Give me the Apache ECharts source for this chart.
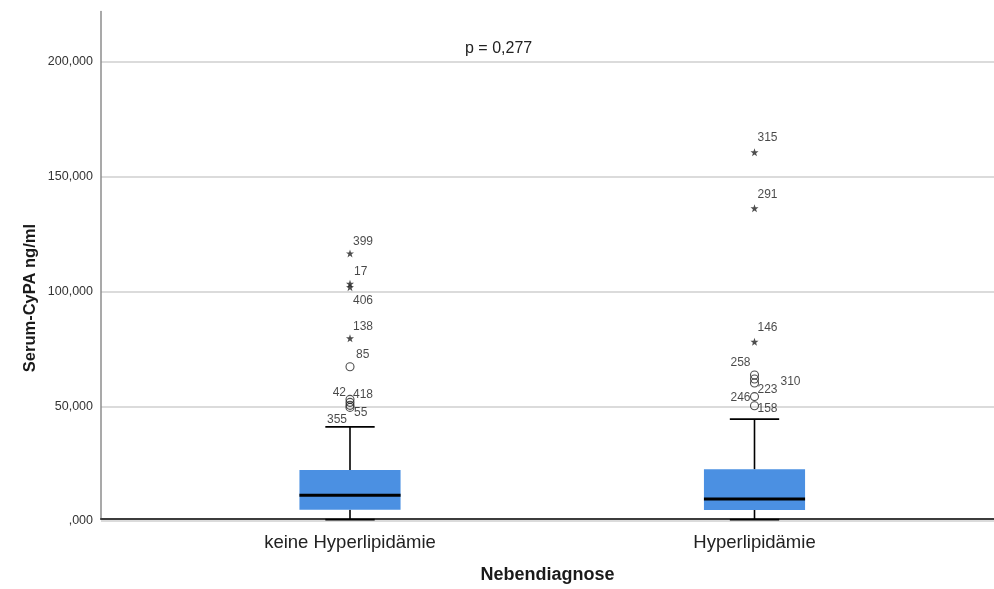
<!DOCTYPE html>
<html>
<head>
<meta charset="utf-8">
<script src="https://cdn.jsdelivr.net/npm/echarts@6/dist/echarts.min.js"></script>
<style>
  html, body { margin: 0; padding: 0; background: #ffffff; }
  #chart { width: 994px; height: 589px; }
</style>
</head>
<body>
<div id="chart"></div>
<script>
// Groups on the x axis
const categories = ['keine Hyperlipidämie', 'Hyperlipidämie'];

// Box summaries in ng/ml: [lower whisker, Q1, median, Q3, upper whisker]
const boxKeine = [0.6, 4.9, 11.2, 22.2, 41.0];
const boxHyper = [0.6, 4.8, 9.6, 22.5, 44.4];

// Outlying cases (case number, value in ng/ml, kind: 'o' = outlier, '*' = extreme)
const outIdsKeine   = [399, 17, 406, 138, 85, 42, 418, 355, 55];
const outValsKeine  = [116.6, 103.4, 101.9, 79.6, 67.2, 53.0, 51.7, 50.4, 49.5];
const outKindKeine  = ['*', '*', '*', '*', 'o', 'o', 'o', 'o', 'o'];

const outIdsHyper   = [315, 291, 146, 258, 310, 223, 246, 158];
const outValsHyper  = [160.7, 136.3, 78.1, 63.6, 61.9, 60.1, 54.2, 50.2];
const outKindHyper  = ['*', '*', '*', 'o', 'o', 'o', 'o', 'o'];

// Y axis ticks
const yTicks = [0, 50, 100, 150, 200];
const yMax = 222;

const pText = 'p = 0,277';

// Where each case number label sits next to its marker: [dx, dy, align]
const labelPlace = {
  399: [3, -12, 'left'], 17: [4, -12, 'left'], 406: [3, 14, 'left'],
  138: [3, -12, 'left'], 85: [6, -12, 'left'], 42: [-4, -7, 'right'],
  418: [3, -8, 'left'], 355: [-3, 14, 'right'], 55: [4, 5, 'left'],
  315: [3, -14, 'left'], 291: [3, -13, 'left'], 146: [3, -14, 'left'],
  258: [-4, -12, 'right'], 310: [26, 3, 'left'], 223: [3, 7, 'left'],
  246: [-4, 1, 'right'], 158: [3, 3, 'left']
};

const FONT = '"Liberation Sans", Arial, sans-serif';
const STAR = 'path://M0,-10L2.35,-3.24L9.51,-3.09L3.8,1.24L5.88,8.09L0,4L-5.88,8.09L-3.8,1.24L-9.51,-3.09L-2.35,-3.24Z';

function fmtTick(v) {
  let s = v.toFixed(3).replace('.', ',');
  s = s.replace(/\B(?=(\d{3})+(?!\d))/g, '.');
  if (s.startsWith('0,')) s = s.slice(1);
  return s;
}

function outlierItems(catIdx, ids, vals, kinds, kind) {
  const items = [];
  ids.forEach((id, i) => {
    if (kinds[i] !== kind) return;
    const p = labelPlace[id] || [3, -10, 'left'];
    items.push({
      name: String(id),
      value: [catIdx, vals[i]],
      label: { offset: [p[0], p[1]], align: p[2] }
    });
  });
  return items;
}

const circleData = outlierItems(0, outIdsKeine, outValsKeine, outKindKeine, 'o')
  .concat(outlierItems(1, outIdsHyper, outValsHyper, outKindHyper, 'o'));
const starData = outlierItems(0, outIdsKeine, outValsKeine, outKindKeine, '*')
  .concat(outlierItems(1, outIdsHyper, outValsHyper, outKindHyper, '*'));

const pointLabel = {
  show: true,
  position: 'inside',
  formatter: '{b}',
  fontSize: 12,
  fontFamily: FONT,
  color: '#1a1a1a',
  verticalAlign: 'middle'
};

const chart = echarts.init(document.getElementById('chart'));

chart.setOption({
  animation: false,
  backgroundColor: '#ffffff',
  grid: [
    // frame: axis lines
    { left: 101, right: 0, top: 11.5, bottom: 68 },
    // value scale with gridlines up to 200
    { left: 101, right: 0, top: 62, bottom: 68 },
    // boxes
    { left: 147.75, right: 37.25, top: 11.5, bottom: 68 }
  ],
  xAxis: [
    {
      gridIndex: 0, type: 'value', min: 0, max: 1, z: 3,
      axisLine: { show: true, lineStyle: { color: '#3c3c3c', width: 2 } },
      axisTick: { show: false }, axisLabel: { show: false }, splitLine: { show: false },
      name: 'Nebendiagnose', nameLocation: 'middle', nameGap: 47,
      nameTextStyle: { fontFamily: FONT, fontSize: 18, fontWeight: 'bold', color: '#1a1a1a' }
    },
    {
      gridIndex: 1, type: 'value', min: 0, max: 1, show: false
    },
    {
      gridIndex: 2, type: 'category', data: categories,
      axisLine: { show: false }, axisTick: { show: false },
      axisLabel: { margin: 12, fontFamily: FONT, fontSize: 18.5, color: '#222222' }
    }
  ],
  yAxis: [
    {
      gridIndex: 0, type: 'value', min: 0, max: yMax, z: 3,
      axisLine: { show: true, lineStyle: { color: '#8c8c8c', width: 1.5 } },
      axisTick: { show: false }, axisLabel: { show: false }, splitLine: { show: false }
    },
    {
      gridIndex: 1, type: 'value', min: yTicks[0], max: yTicks[yTicks.length - 1], interval: 50, z: 0,
      axisLine: { show: false }, axisTick: { show: false },
      axisLabel: { formatter: fmtTick, margin: 8, fontFamily: FONT, fontSize: 12.5, color: '#333333' },
      splitLine: { show: true, lineStyle: { color: '#cfcfcf', width: 1.5 } }
    },
    {
      gridIndex: 2, type: 'value', min: 0, max: yMax, show: false
    }
  ],
  graphic: [
    {
      type: 'text', left: 22, top: 224, rotation: Math.PI / 2, z: 10,
      style: {
        text: 'Serum-CyPA ng/ml', fontFamily: FONT, fontSize: 16.5, fontWeight: 'bold',
        fill: '#1a1a1a'
      }
    },
    {
      type: 'text', left: 465, top: 41, z: 10,
      style: { text: pText, fontFamily: FONT, fontSize: 16, fill: '#222222' }
    }
  ],
  series: [
    {
      type: 'custom', z: 4,
      xAxisIndex: 2, yAxisIndex: 2,
      data: [[0].concat(boxKeine), [1].concat(boxHyper)],
      renderItem(params, api) {
        const x = api.value(0);
        const lo = api.coord([x, api.value(1)]);
        const q1 = api.coord([x, api.value(2)]);
        const md = api.coord([x, api.value(3)]);
        const q3 = api.coord([x, api.value(4)]);
        const hi = api.coord([x, api.value(5)]);
        const band = api.size([1, 0])[0];
        const bw = band * 0.25;
        const cw = band * 0.122;
        const cx = md[0];
        const ink = { stroke: '#000000', lineWidth: 1.6 };
        return {
          type: 'group',
          children: [
            { type: 'line', shape: { x1: cx, y1: hi[1], x2: cx, y2: q3[1] }, style: ink },
            { type: 'line', shape: { x1: cx, y1: q1[1], x2: cx, y2: lo[1] }, style: ink },
            { type: 'line', shape: { x1: cx - cw / 2, y1: hi[1], x2: cx + cw / 2, y2: hi[1] }, style: ink },
            { type: 'line', shape: { x1: cx - cw / 2, y1: lo[1], x2: cx + cw / 2, y2: lo[1] }, style: ink },
            { type: 'rect', shape: { x: cx - bw / 2, y: q3[1], width: bw, height: q1[1] - q3[1] },
              style: { fill: '#4b90e2' } },
            { type: 'line', shape: { x1: cx - bw / 2, y1: md[1], x2: cx + bw / 2, y2: md[1] },
              style: { stroke: '#000000', lineWidth: 3 } }
          ]
        };
      }
    },
    {
      type: 'scatter', xAxisIndex: 2, yAxisIndex: 2, z: 5,
      symbol: 'circle', symbolSize: 8,
      itemStyle: { color: 'rgba(0,0,0,0)', borderColor: '#222222', borderWidth: 1.1 },
      label: pointLabel,
      data: circleData
    },
    {
      type: 'scatter', xAxisIndex: 2, yAxisIndex: 2, z: 5,
      symbol: STAR, symbolSize: 8,
      itemStyle: { color: '#222222' },
      label: pointLabel,
      data: starData
    }
  ]
});
</script>
</body>
</html>
